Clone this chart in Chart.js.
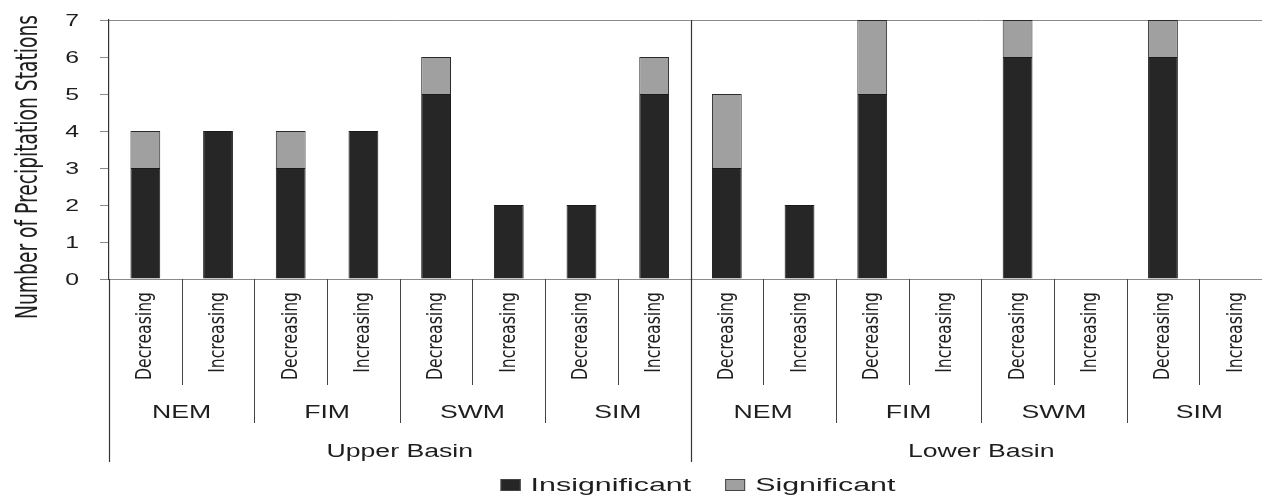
<!DOCTYPE html>
<html>
<head>
<meta charset="utf-8">
<script src="https://cdn.jsdelivr.net/npm/chart.js@4"></script>
<style>
  html, body { margin: 0; padding: 0; background: #fff; overflow: hidden; }
  body { width: 1262px; height: 495px; }
  #c { display: block; }
</style>
</head>
<body>
<canvas id="c" width="1272" height="495"></canvas>
<script>
// ---- data ----
const categories = ['Decreasing','Increasing','Decreasing','Increasing','Decreasing','Increasing','Decreasing','Increasing',
                    'Decreasing','Increasing','Decreasing','Increasing','Decreasing','Increasing','Decreasing','Increasing'];
const seasonLabels = ['NEM','FIM','SWM','SIM','NEM','FIM','SWM','SIM'];
const basinLabels = ['Upper Basin','Lower Basin'];
const insignificant = [3,4,3,4,5,2,2,5, 3,2,5,0,6,0,6,0];
const significant   = [1,0,1,0,1,0,0,1, 2,0,2,0,1,0,1,0];
const yTicks = [0,1,2,3,4,5,6,7];
const yTitle = 'Number of Precipitation Stations';

const SANS = '"DejaVu Sans", sans-serif';
const WIDE = '"Liberation Sans", Arial, sans-serif';
const TEXT = '#1e1e1e';

function stretchedText(ctx, text, x, y, sx, align) {
  ctx.save();
  ctx.translate(x, y);
  ctx.scale(sx, 1);
  ctx.textAlign = align || 'center';
  ctx.textBaseline = 'alphabetic';
  ctx.fillText(text, 0, 0);
  ctx.restore();
}
// vertical text reading bottom-to-top, compressed along its length by sx
function rotatedText(ctx, text, x, y, sx, align) {
  ctx.save();
  ctx.translate(x, y);
  ctx.rotate(-Math.PI / 2);
  ctx.scale(sx, 1);
  ctx.textAlign = align;
  ctx.textBaseline = 'alphabetic';
  ctx.fillText(text, 0, 0);
  ctx.restore();
}

const multiLevel = {
  id: 'multiLevel',
  afterDraw(chart) {
    const ctx = chart.ctx;
    const xs = chart.scales.x;
    const ys = chart.scales.y;
    const area = chart.chartArea;
    const n = categories.length;
    const bound = i => (i <= 0) ? area.left : (i >= n ? area.right : (xs.getPixelForValue(i - 1) + xs.getPixelForValue(i)) / 2);
    ctx.save();

    // separators below the axis
    for (let i = 1; i < n; i++) {
      const bx = Math.round(bound(i)) + 0.5;
      ctx.beginPath();
      if (i % 8 === 0) {
        ctx.strokeStyle = '#333'; ctx.lineWidth = 1.2;
        ctx.moveTo(bx, area.top); ctx.lineTo(bx, 462);
      } else if (i % 2 === 0) {
        ctx.strokeStyle = '#444'; ctx.lineWidth = 1;
        ctx.moveTo(bx, area.bottom); ctx.lineTo(bx, 423);
      } else {
        ctx.strokeStyle = '#444'; ctx.lineWidth = 1;
        ctx.moveTo(bx, area.bottom); ctx.lineTo(bx, 385);
      }
      ctx.stroke();
    }
    ctx.beginPath();
    ctx.strokeStyle = '#333'; ctx.lineWidth = 1.2;
    ctx.moveTo(Math.round(area.left) + 0.5, area.bottom);
    ctx.lineTo(Math.round(area.left) + 0.5, 462);
    ctx.stroke();

    ctx.fillStyle = TEXT;

    // y tick labels (wide look)
    ctx.font = '16px ' + WIDE;
    ys.ticks.forEach(t => {
      const py = ys.getPixelForValue(t.value);
      stretchedText(ctx, String(t.value), 79, py + 5.8, 1.55, 'right');
    });

    // y title (condensed look)
    ctx.font = '30px ' + SANS;
    const tw = ctx.measureText(yTitle).width;
    rotatedText(ctx, yTitle, 37, 167, 304 / tw, 'center');

    // rotated category labels (condensed look)
    ctx.font = '22px ' + SANS;
    const refW = ctx.measureText('Decreasing').width;
    const csx = 88 / refW;
    categories.forEach((c, i) => {
      const px = xs.getPixelForValue(i);
      rotatedText(ctx, c, px + 6, 292, csx, 'right');
    });

    // season & basin labels
    ctx.font = '18px ' + WIDE;
    seasonLabels.forEach((s, g) => {
      const cx = (bound(2 * g) + bound(2 * g + 2)) / 2;
      stretchedText(ctx, s, cx, 418, 1.48);
    });
    basinLabels.forEach((b, k) => {
      const cx = (bound(8 * k) + bound(8 * k + 8)) / 2;
      stretchedText(ctx, b, cx, 457, 1.48);
    });

    // legend
    const sx = 1.6;
    ctx.font = '19px ' + WIDE;
    const ds = chart.data.datasets;
    const boxW = 20, boxH = 12, gapBox = 10, gapItem = 34;
    const widths = ds.map(d => ctx.measureText(d.label).width * sx);
    let total = 0;
    widths.forEach((w, i) => { total += boxW + gapBox + w + (i < widths.length - 1 ? gapItem : 0); });
    let x = 698 - total / 2;
    const ly = 491;
    ds.forEach((d, i) => {
      ctx.fillStyle = d.backgroundColor;
      ctx.fillRect(x, ly - 12, boxW, boxH);
      ctx.strokeStyle = '#444'; ctx.lineWidth = 1;
      ctx.strokeRect(x + 0.5, ly - 11.5, boxW - 1, boxH - 1);
      x += boxW + gapBox;
      ctx.fillStyle = TEXT;
      stretchedText(ctx, d.label, x, ly, sx, 'left');
      x += widths[i] + gapItem;
    });
    ctx.restore();
  }
};

new Chart(document.getElementById('c'), {
  type: 'bar',
  data: {
    labels: categories,
    datasets: [
      { label: 'Insignificant', data: insignificant, backgroundColor: '#262626', borderColor: '#1a1a1a', borderWidth: 1,
        barPercentage: 0.41, categoryPercentage: 1 },
      { label: 'Significant', data: significant, backgroundColor: '#a0a0a0', borderColor: '#2a2a2a', borderWidth: 1,
        barPercentage: 0.41, categoryPercentage: 1 }
    ]
  },
  options: {
    responsive: false,
    devicePixelRatio: 1,
    animation: false,
    layout: { padding: { top: 20, right: 0, bottom: 0, left: 0 } },
    plugins: { legend: { display: false }, tooltip: { enabled: false } },
    scales: {
      x: {
        stacked: true,
        offset: true,
        grid: { display: false },
        border: { display: true, color: '#8a8a8a', width: 1 },
        ticks: { display: false },
        afterFit(scale) { scale.height = 216; scale.paddingLeft = 0; scale.paddingRight = 0; }
      },
      y: {
        stacked: true,
        min: 0, max: 7,
        afterBuildTicks(scale) { scale.ticks = yTicks.map(v => ({ value: v })); },
        grid: {
          drawOnChartArea: true,
          color: ctx => (ctx.tick && ctx.tick.value === 7) ? '#8a8a8a' : 'rgba(0,0,0,0)',
          tickColor: '#8a8a8a',
          tickLength: 9
        },
        border: { display: true, color: '#333', width: 1.2 },
        ticks: { display: false },
        title: { display: false, text: yTitle },
        afterFit(scale) { scale.width = 109; scale.paddingTop = 0; scale.paddingBottom = 0; }
      }
    }
  },
  plugins: [multiLevel]
});
</script>
</body>
</html>
